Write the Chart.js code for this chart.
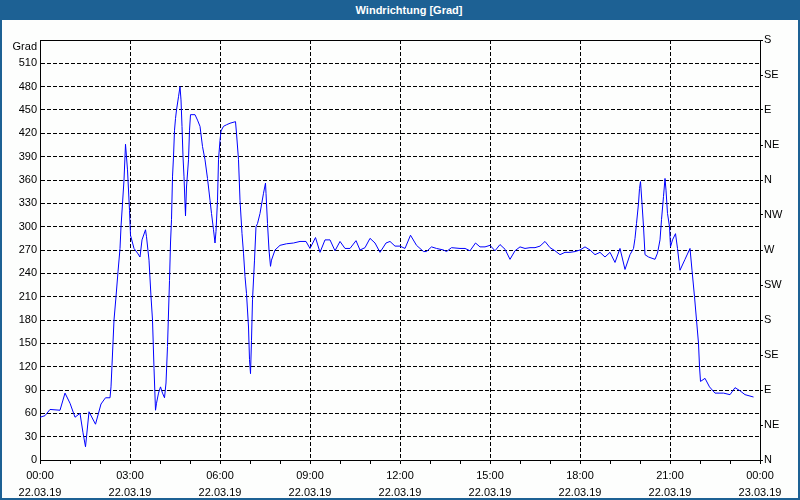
<!DOCTYPE html>
<html>
<head>
<meta charset="utf-8">
<script src="https://cdn.jsdelivr.net/npm/chart.js@4/dist/chart.umd.min.js"></script>
<style>
html, body { margin: 0; padding: 0; background: #fff; }
#wrap { position: relative; width: 800px; height: 500px; overflow: hidden; background: #fdfefd; }
#title { position: absolute; left: 0; top: 0; width: 800px; height: 20px; box-sizing: border-box; padding-left: 18px;
  background: #1d6194; color: #fff; font: bold 11px "Liberation Sans", sans-serif; line-height: 20px; text-align: center; z-index: 2; }
#frame { position: absolute; left: 0; top: 0; width: 800px; height: 500px; box-sizing: border-box;
  border: 2px solid #1d6194; border-top: none; pointer-events: none; z-index: 3; }
canvas { position: absolute; left: 0; top: 0; }
</style>
</head>
<body>
<div id="wrap">
  <div id="title">Windrichtung [Grad]</div>
  <canvas id="chart" width="800" height="500"></canvas>
  <div id="frame"></div>
</div>
<script>
// minutes since 22.03.19 00:00
var times = [0, 10, 20, 40, 50, 60, 70, 80, 86, 91, 98, 111, 122, 131, 140, 142, 144, 148, 152, 156,
  160, 162, 165, 168, 171, 175, 179, 181, 188, 195, 200, 204, 211, 213, 218, 222, 225, 228, 231, 233,
  237, 241, 245, 249, 252, 255, 257, 259, 261, 263, 265, 267, 269, 271, 273, 277, 280, 282, 284, 286,
  288, 290, 291, 293, 297, 299, 301, 310, 315, 320, 325, 330, 335, 340, 343, 347, 350, 352, 355, 357,
  360, 362, 367, 373, 380, 391, 393, 397, 400, 404, 407, 410, 413, 417, 419, 421, 423, 425, 429, 432,
  435, 440, 447, 451, 452, 455, 458, 461, 463, 470, 480, 493, 507, 520, 532, 540, 551, 560, 570, 580,
  590, 600, 610, 620, 632, 640, 650, 660, 670, 680, 692, 700, 710, 720, 730, 741, 753, 767, 773, 783,
  793, 807, 813, 823, 840, 850, 860, 871, 880, 890, 900, 910, 920, 930, 940, 950, 960, 970, 980, 990,
  1000, 1010, 1020, 1030, 1040, 1050, 1060, 1070, 1080, 1090, 1100, 1110, 1120, 1130, 1140, 1150, 1160, 1170, 1180, 1187,
  1190, 1193, 1197, 1199, 1201, 1204, 1207, 1210, 1217, 1230, 1235, 1240, 1243, 1247, 1250, 1252, 1255, 1259, 1261, 1265,
  1271, 1275, 1280, 1290, 1300, 1304, 1309, 1313, 1317, 1319, 1321, 1330, 1339, 1350, 1367, 1380, 1390, 1400, 1410, 1427];

var values = [55, 57, 65, 64, 86, 73, 55, 60, 35, 17, 62, 46, 72, 80, 80, 94, 122, 180, 210, 242,
  272, 300, 330, 360, 406, 373, 321, 289, 272, 266, 261, 283, 296, 287, 257, 210, 180, 118, 64, 73,
  86, 94, 86, 80, 99, 146, 189, 231, 279, 309, 364, 390, 424, 439, 450, 467, 480, 463, 429, 390,
  364, 330, 314, 351, 386, 424, 444, 444, 437, 429, 403, 386, 362, 334, 317, 296, 279, 294, 334, 386,
  411, 423, 429, 431, 433, 435, 420, 386, 334, 291, 266, 236, 214, 171, 129, 111, 154, 206, 257, 300,
  304, 317, 343, 356, 343, 304, 270, 249, 257, 270, 276, 278, 279, 281, 281, 272, 286, 267, 283, 283,
  269, 281, 272, 272, 282, 270, 273, 285, 279, 267, 279, 281, 275, 275, 272, 289, 276, 268, 268, 274,
  272, 270, 268, 273, 272, 272, 269, 279, 274, 274, 276, 269, 277, 271, 258, 269, 274, 272, 273, 273,
  275, 281, 273, 269, 264, 267, 267, 268, 270, 274, 270, 264, 267, 261, 267, 254, 272, 245, 264, 272,
  285, 304, 330, 349, 358, 330, 300, 264, 261, 258, 266, 283, 309, 339, 362, 347, 317, 300, 274, 283,
  291, 272, 244, 258, 272, 244, 210, 180, 150, 120, 101, 105, 94, 86, 86, 84, 93, 89, 84, 81];

var timeLabels = ['00:00', '03:00', '06:00', '09:00', '12:00', '15:00', '18:00', '21:00', '00:00'];
var dateLabels = ['22.03.19', '22.03.19', '22.03.19', '22.03.19', '22.03.19', '22.03.19', '22.03.19', '22.03.19', '23.03.19'];
var compass = ['N', 'NE', 'E', 'SE', 'S', 'SW', 'W', 'NW', 'N', 'NE', 'E', 'SE', 'S'];

Chart.defaults.font.family = '"Liberation Sans", sans-serif';
Chart.defaults.font.size = 11;
Chart.defaults.color = '#000';

var points = times.map(function (t, i) { return { x: t, y: values[i] }; });

// solid top edge of the plot area
var topLine = {
    id: 'topLine',
    afterDraw: function (chart) {
        var a = chart.chartArea, ctx = chart.ctx;
        ctx.save();
        ctx.strokeStyle = '#000';
        ctx.lineWidth = 1;
        ctx.beginPath();
        ctx.moveTo(a.left, Math.round(a.top) + 0.5);
        ctx.lineTo(a.right + 1, Math.round(a.top) + 0.5);
        ctx.stroke();
        ctx.restore();
    }
};

var chart = new Chart(document.getElementById('chart'), {
    type: 'line',
    data: {
        datasets: [{
            label: 'Windrichtung',
            data: points,
            borderColor: '#0000ff',
            borderWidth: 1,
            pointRadius: 0,
            tension: 0,
            fill: false
        }]
    },
    options: {
        responsive: false,
        animation: false,
        layout: { padding: { top: 40, left: 0, right: 0, bottom: 0 } },
        plugins: { legend: { display: false }, tooltip: { enabled: false } },
        scales: {
            x: {
                type: 'linear',
                min: 0,
                max: 1440,
                afterFit: function (scale) { scale.height = 40; },
                border: { color: '#000', width: 1, dash: [4, 2] },
                grid: {
                    color: function (c) {
                        var v = c.tick ? c.tick.value : 0;
                        return (v % 180 === 0 && v > 0 && v < 1440) ? '#000' : 'rgba(0,0,0,0)';
                    },
                    tickColor: '#000',
                    tickLength: 4,
                    drawTicks: true
                },
                ticks: {
                    stepSize: 60,
                    autoSkip: false,
                    maxRotation: 0,
                    padding: 3,
                    font: { lineHeight: 1.55 },
                    callback: function (v) {
                        if (v % 180 !== 0) return '';
                        return [timeLabels[v / 180], dateLabels[v / 180]];
                    }
                }
            },
            y: {
                position: 'left',
                min: 0,
                max: 540,
                afterFit: function (scale) { scale.width = 40; },
                border: { color: '#000', width: 1, dash: [4, 2] },
                grid: {
                    color: function (c) {
                        var v = c.tick ? c.tick.value : 0;
                        return (v > 0 && v < 540) ? '#000' : 'rgba(0,0,0,0)';
                    },
                    drawTicks: false
                },
                ticks: {
                    stepSize: 30,
                    autoSkip: false,
                    padding: 3,
                    callback: function (v) {
                        if (v === 540) return ['', 'Grad'];
                        return String(v);
                    }
                }
            },
            y2: {
                position: 'right',
                min: 0,
                max: 540,
                afterFit: function (scale) { scale.width = 40; },
                border: { color: '#000', width: 1 },
                grid: { drawOnChartArea: false, drawTicks: true, tickLength: 3, color: '#000' },
                ticks: {
                    stepSize: 45,
                    autoSkip: false,
                    padding: 1,
                    callback: function (v) { return compass[v / 45]; }
                }
            }
        }
    },
    plugins: [topLine]
});
</script>
</body>
</html>
